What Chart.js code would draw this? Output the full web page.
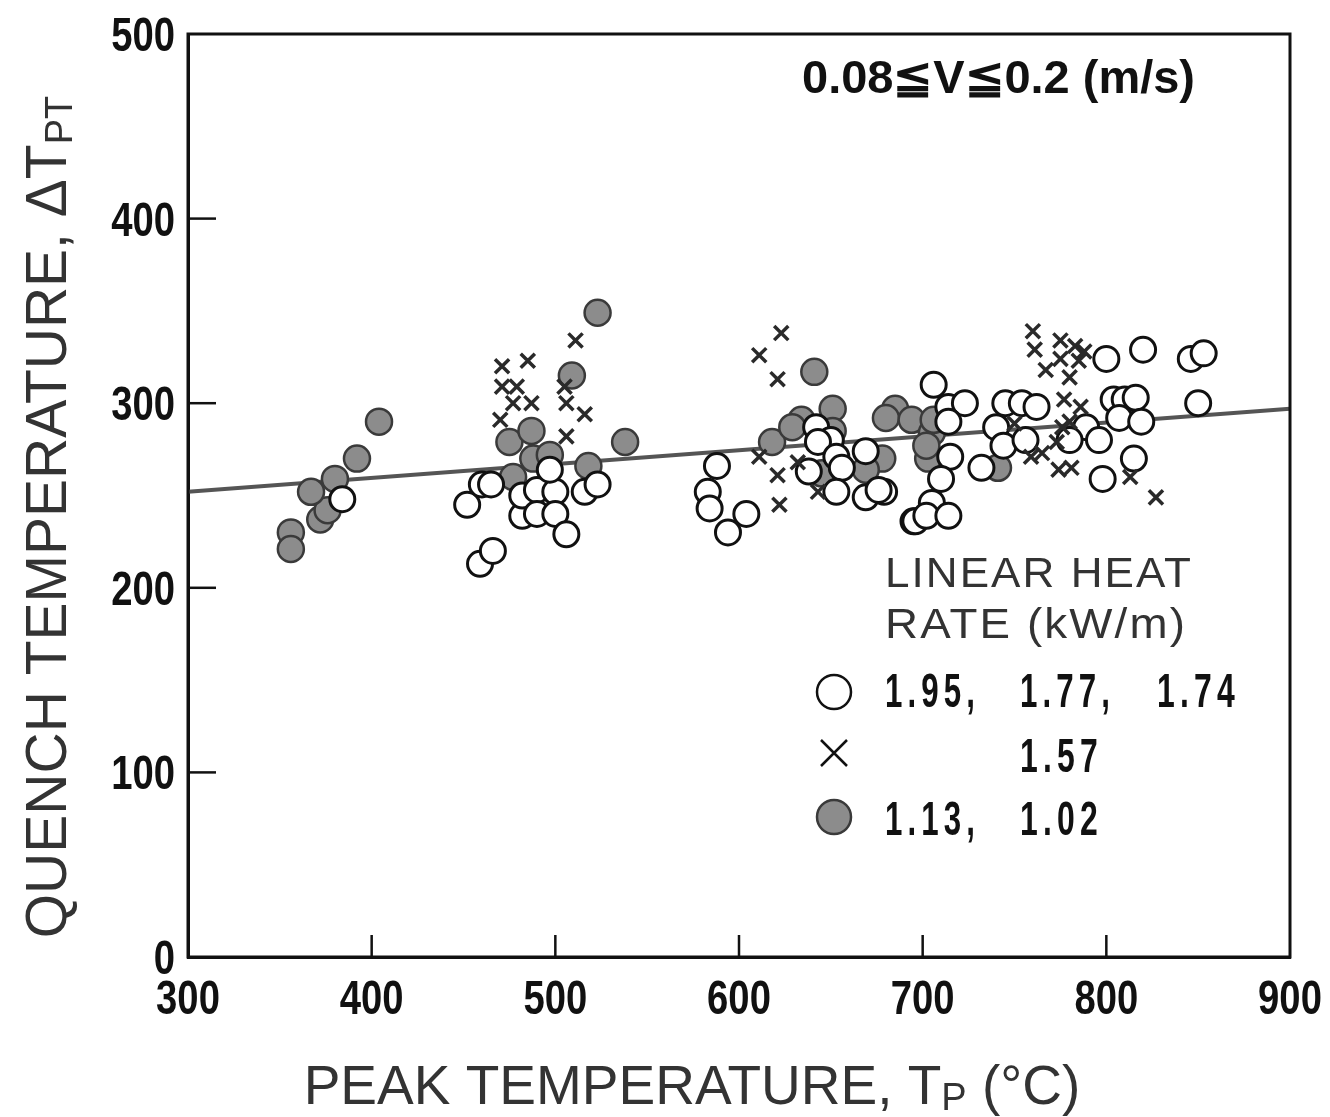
<!DOCTYPE html>
<html>
<head>
<meta charset="utf-8">
<script src="https://cdn.jsdelivr.net/npm/chart.js@4.4.1/dist/chart.umd.min.js"></script>
<style>
  body { margin: 0; background: #fff; }
  #wrap { width: 1330px; height: 1117px; }
</style>
</head>
<body>
<div id="wrap"><canvas id="chartQuench" width="1330" height="1117"></canvas></div>
<script>
// Data: peak temperature Tp (°C) vs quench temperature ΔTpt
const openX = [384, 452, 459, 466, 460, 465, 482, 482, 490, 490, 500, 500, 497, 506, 516, 523,
  588, 583, 584, 604, 594, 642, 650, 643, 653, 656, 638, 653, 669, 669, 679, 695,
  706, 714, 723, 714, 715, 710, 705, 696, 702, 714, 676, 732, 740, 745, 754, 762,
  744, 756, 789, 796, 780, 800, 820, 846, 853, 804, 810, 816, 807, 819, 850, 815, 798];
const openY = [248, 245, 213, 220, 256, 256, 239, 250, 253, 240, 252, 240, 264, 229, 252, 256,
  266, 252, 243, 240, 230, 287, 280, 279, 271, 265, 263, 252, 274, 249, 252, 236,
  310, 298, 300, 290, 271, 259, 246, 236, 239, 239, 253, 265, 287, 300, 300, 298,
  277, 280, 287, 280, 280, 324, 329, 324, 327, 302, 302, 303, 292, 290, 300, 270, 259];

const crossX = [471, 485, 471, 479, 477, 487, 470, 511, 506, 516, 506, 505,
  623, 611, 621, 611, 621, 622, 632, 643,
  760, 761, 767, 775, 775, 783, 785, 788, 780, 777, 786, 750, 780, 776, 773, 765, 759, 774, 781, 813, 827];
const crossY = [320, 323, 309, 309, 300, 300, 291, 334, 300, 294, 282, 309,
  338, 326, 313, 271, 261, 245, 268, 252,
  339, 329, 318, 334, 324, 331, 323, 328, 314, 302, 298, 289, 290, 287, 279, 273, 271, 264, 265, 260, 249];

const filledX = [356, 356, 372, 376, 367, 380, 392, 404, 475, 487, 488, 497, 477, 509, 523, 518, 538,
  641, 618, 634, 651, 651, 685, 680, 645, 678, 669, 694, 629, 705, 703, 706, 741, 702];
const filledY = [230, 221, 237, 242, 252, 259, 270, 290, 279, 285, 270, 272, 260, 315, 349, 266, 279,
  317, 279, 291, 297, 285, 297, 292, 262, 270, 264, 291, 287, 284, 270, 291, 265, 277];

// fitted line end points
const fitX = [300, 900];
const fitY = [252, 297];

const xTicks = [300, 400, 500, 600, 700, 800, 900];
const yTicks = [0, 100, 200, 300, 400, 500];

const toPts = (xs, ys) => xs.map((x, i) => ({ x: x, y: ys[i] }));

const txtFont = "'Liberation Sans', Arial, sans-serif";
const numFont = 'bold 49px ' + txtFont;

// text squeezed sideways, like the condensed type of the original
function narrow(c, text, x, y, align, sx) {
  c.save();
  c.translate(x, y);
  c.scale(sx, 1);
  c.textAlign = align;
  c.fillText(text, 0, 0);
  c.restore();
}
// text squeezed to a given width, left edge at x
function fitText(c, text, x, y, width) {
  const w = c.measureText(text).width;
  narrow(c, text, x, y, 'left', width / w);
}

const decor = {
  id: 'decor',
  afterDraw(chart) {
    const c = chart.ctx;
    const a = chart.chartArea;
    const sx = chart.scales.x, sy = chart.scales.y;
    c.save();
    c.strokeStyle = '#111';
    c.lineWidth = 3;
    c.strokeRect(a.left, a.top, a.right - a.left, a.bottom - a.top);

    // inward ticks
    c.lineWidth = 2.5;
    xTicks.slice(1, -1).forEach(v => {
      const px = sx.getPixelForValue(v);
      c.beginPath(); c.moveTo(px, a.bottom); c.lineTo(px, a.bottom - 22); c.stroke();
    });
    yTicks.slice(1, -1).forEach(v => {
      const py = sy.getPixelForValue(v);
      c.beginPath(); c.moveTo(a.left, py); c.lineTo(a.left + 28, py); c.stroke();
    });

    // tick labels
    c.fillStyle = '#111';
    c.font = numFont;
    c.textBaseline = 'alphabetic';
    xTicks.forEach(v => narrow(c, String(v), sx.getPixelForValue(v), a.bottom + 57, 'center', 0.78));
    yTicks.forEach(v => narrow(c, String(v), a.left - 13, sy.getPixelForValue(v) + 17, 'right', 0.78));

    // x title
    c.fillStyle = '#333';
    c.textAlign = 'left';
    const big = '55px ' + txtFont, sub = '38px ' + txtFont;
    let parts = [['PEAK TEMPERATURE, T', big, 0], ['P', sub, 6], [' (°C)', big, 0]];
    let w = 0;
    parts.forEach(p => { c.font = p[1]; w += c.measureText(p[0]).width; });
    let x0 = 692 - w / 2;
    parts.forEach(p => { c.font = p[1]; c.fillText(p[0], x0, 1104 + p[2]); x0 += c.measureText(p[0]).width; });

    // y title
    c.save();
    c.translate(66, 517);
    c.rotate(-Math.PI / 2);
    const bigY = '57px ' + txtFont, subY = '38px ' + txtFont;
    parts = [['QUENCH TEMPERATURE, ΔT', bigY, 0], ['PT', subY, 6]];
    w = 0;
    parts.forEach(p => { c.font = p[1]; w += c.measureText(p[0]).width; });
    x0 = -w / 2;
    parts.forEach(p => { c.font = p[1]; c.fillText(p[0], x0, p[2]); x0 += c.measureText(p[0]).width; });
    c.restore();

    // condition note
    c.fillStyle = '#111';
    c.font = 'bold 46px ' + txtFont;
    fitText(c, '0.08≦V≦0.2 (m/s)', 802, 93, 393);

    // legend
    c.fillStyle = '#333';
    c.font = '43px ' + txtFont;
    c.letterSpacing = '2px';
    fitText(c, 'LINEAR HEAT', 885, 587, 308);
    fitText(c, 'RATE (kW/m)', 885, 638, 302);

    c.fillStyle = '#111';
    c.font = numFont;
    c.letterSpacing = '8px';
    fitText(c, '1.95,', 885, 707, 95);
    fitText(c, '1.77,', 1020, 707, 95);
    fitText(c, '1.74', 1157, 707, 83);
    fitText(c, '1.57', 1020, 772, 83);
    fitText(c, '1.13,', 885, 835, 95);
    fitText(c, '1.02', 1020, 835, 83);
    c.letterSpacing = '0px';

    c.lineWidth = 2.5;
    c.strokeStyle = '#111';
    c.beginPath(); c.arc(834, 692, 17, 0, Math.PI * 2); c.stroke();
    c.beginPath();
    c.moveTo(821, 740); c.lineTo(847, 766);
    c.moveTo(847, 740); c.lineTo(821, 766);
    c.stroke();
    c.fillStyle = '#8c8c8c';
    c.strokeStyle = '#3a3a3a';
    c.beginPath(); c.arc(834, 817, 17, 0, Math.PI * 2); c.fill(); c.stroke();
    c.restore();
  }
};

new Chart(document.getElementById('chartQuench'), {
  type: 'scatter',
  data: {
    datasets: [
      {
        label: '1.57',
        data: toPts(crossX, crossY),
        pointStyle: 'crossRot',
        pointRadius: 10,
        borderColor: '#2a2a2a',
        borderWidth: 3.5,
        order: 0
      },
      {
        label: '1.95, 1.77, 1.74',
        data: toPts(openX, openY),
        pointStyle: 'circle',
        pointRadius: 12.5,
        backgroundColor: '#ffffff',
        borderColor: '#111',
        borderWidth: 3,
        order: 1
      },
      {
        label: '1.13, 1.02',
        data: toPts(filledX, filledY),
        pointStyle: 'circle',
        pointRadius: 13,
        backgroundColor: '#8c8c8c',
        borderColor: '#3a3a3a',
        borderWidth: 2.5,
        order: 2
      },
      {
        type: 'line',
        label: 'fit',
        data: toPts(fitX, fitY),
        borderColor: '#555',
        borderWidth: 4,
        pointRadius: 0,
        order: 3
      }
    ]
  },
  options: {
    responsive: false,
    animation: false,
    events: [],
    layout: { padding: { top: 34, right: 40, left: 0, bottom: 0 } },
    plugins: { legend: { display: false }, tooltip: { enabled: false } },
    scales: {
      x: {
        type: 'linear',
        min: 300, max: 900,
        afterFit: s => { s.height = 160; },
        afterBuildTicks: s => { s.ticks = xTicks.map(v => ({ value: v })); },
        grid: { display: false, drawTicks: false },
        border: { display: true, color: '#111', width: 3 },
        ticks: { display: false }
      },
      y: {
        type: 'linear',
        min: 0, max: 500,
        afterFit: s => { s.width = 188; },
        afterBuildTicks: s => { s.ticks = yTicks.map(v => ({ value: v })); },
        grid: { display: false, drawTicks: false },
        border: { display: true, color: '#111', width: 3 },
        ticks: { display: false }
      }
    }
  },
  plugins: [decor]
});
</script>
</body>
</html>
